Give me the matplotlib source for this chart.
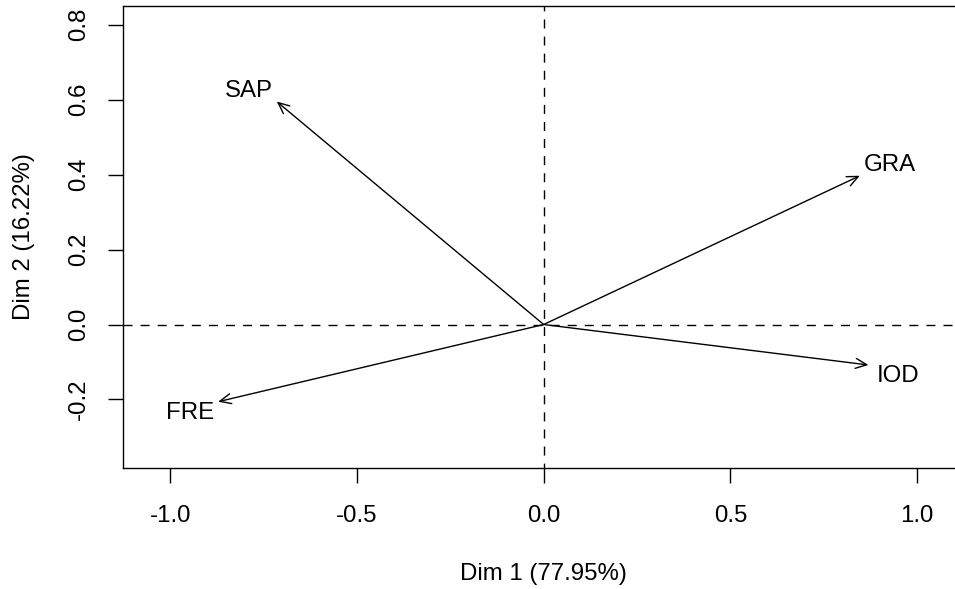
import matplotlib
matplotlib.use("Agg")
import matplotlib.pyplot as plt
import numpy as np

# variables et coordonnees sur les deux premiers axes
noms = ["SAP", "GRA", "IOD", "FRE"]
dim1 = [-0.715, 0.847, 0.870, -0.872]
dim2 = [0.595, 0.397, -0.108, -0.206]

xticks = [-1.0, -0.5, 0.0, 0.5, 1.0]
yticks = [-0.2, 0.0, 0.2, 0.4, 0.6, 0.8]

plt.rcParams['font.family'] = ['Liberation Sans', 'DejaVu Sans']
plt.rcParams['lines.scale_dashes'] = False
taille = 17.3
ep = 1.0

fig = plt.figure(figsize=(9.55, 5.89), dpi=100)
ax = fig.add_axes([0.1288, 0.2054, 0.881, 0.7844])
ax.set_xlim(-1.127, 1.127)
ax.set_ylim(-0.383, 0.850)

# axes en pointilles
ax.axhline(0, color="black", lw=ep, ls=(0, (6.5, 5.8)))
ax.axvline(0, color="black", lw=ep, ls=(3, (6.5, 5.8)))

for nom, x, y in zip(noms, dim1, dim2):
    ax.annotate("", xy=(x, y), xytext=(0, 0),
                arrowprops=dict(arrowstyle="->,head_length=0.4,head_width=0.18",
                                color="black", lw=ep, shrinkA=0, shrinkB=0,
                                mutation_scale=20))
    dx = 30 if x > 0 else -28
    dy = 11 if y > 0 else -11
    ax.annotate(nom, xy=(x, y), xytext=(dx, dy), textcoords="offset pixels",
                ha="center", va="center", fontsize=taille)

ax.set_xticks(xticks)
ax.set_xticklabels([f"{t:.1f}" for t in xticks])
ax.set_yticks(yticks)
ax.set_yticklabels([f"{t:.1f}" for t in yticks], rotation=90, va="center")
ax.tick_params(labelsize=taille, length=10.8, width=ep, direction="out")
ax.tick_params(axis="x", pad=16)
ax.tick_params(axis="y", pad=13)
ax.spines["right"].set_visible(False)
for s in ax.spines.values():
    s.set_linewidth(ep)

ax.set_xlabel("Dim 1 (77.95%)", fontsize=taille, labelpad=26)
ax.set_ylabel("Dim 2 (16.22%)", fontsize=taille, labelpad=24)

fig.savefig("out.png", dpi=100)
